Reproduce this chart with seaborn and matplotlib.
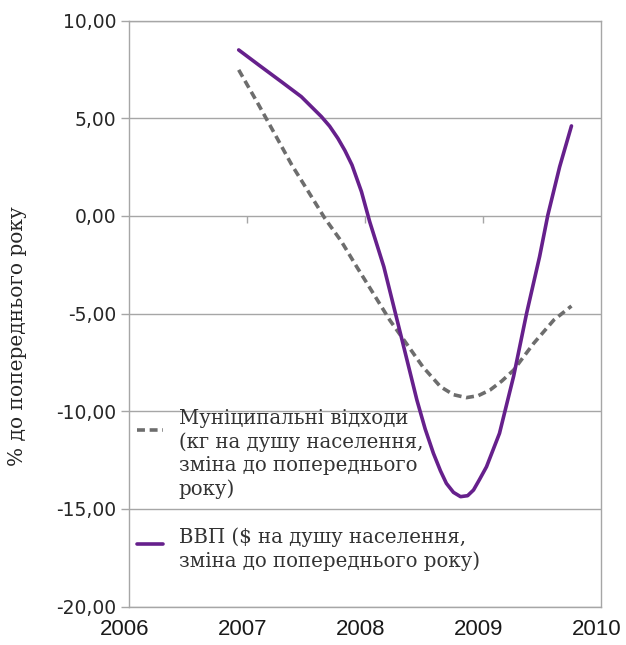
import matplotlib
matplotlib.use("Agg")
import matplotlib.pyplot as plt
import matplotlib.transforms as mtransforms
from matplotlib.legend_handler import HandlerLine2D
import seaborn as sns
import pandas as pd

# values (fractional year, % change)
waste_x = [2006.93, 2007.10, 2007.24, 2007.38, 2007.52, 2007.66, 2007.80, 2007.93,
           2008.07, 2008.21, 2008.35, 2008.49, 2008.64, 2008.75, 2008.86, 2008.96,
           2009.06, 2009.16, 2009.26, 2009.43, 2009.60, 2009.75]
waste_y = [7.48, 5.68, 4.15, 2.61, 1.25, -0.12, -1.30, -2.60,
           -3.96, -5.33, -6.52, -7.72, -8.74, -9.15, -9.30, -9.20,
           -8.91, -8.45, -7.89, -6.52, -5.33, -4.61]

gdp_x = [2006.93, 2007.10, 2007.29, 2007.46, 2007.63, 2007.70, 2007.77, 2007.83,
         2007.89, 2007.97, 2008.04, 2008.16, 2008.30, 2008.44, 2008.51, 2008.58,
         2008.64, 2008.69, 2008.75, 2008.81, 2008.87, 2008.92, 2008.97, 2009.03,
         2009.14, 2009.26, 2009.37, 2009.48, 2009.55, 2009.65, 2009.75]
gdp_y = [8.50, 7.73, 6.88, 6.11, 5.09, 4.60, 3.98, 3.35,
         2.61, 1.25, -0.29, -2.60, -6.00, -9.42, -10.90, -12.15,
         -13.05, -13.69, -14.15, -14.37, -14.32, -14.03, -13.50, -12.84,
         -11.13, -8.20, -4.98, -2.08, 0.05, 2.52, 4.61]

years = [2006, 2007, 2008, 2009, 2010]
y_ticks = [10, 5, 0, -5, -10, -15, -20]

waste_label = "Муніципальні відходи\n(кг на душу населення,\nзміна до попереднього\nроку)"
gdp_label = "ВВП ($ на душу населення,\nзміна до попереднього року)"

waste_df = pd.DataFrame({"year": waste_x, "value": waste_y})
gdp_df = pd.DataFrame({"year": gdp_x, "value": gdp_y})


class RaisedHandler(HandlerLine2D):
    # put the legend sample next to the first text line, like Excel does
    def __init__(self, dy, **kw):
        super().__init__(**kw)
        self.dy = dy

    def create_artists(self, legend, orig_handle, xdescent, ydescent,
                       width, height, fontsize, trans):
        return super().create_artists(legend, orig_handle, xdescent, ydescent - self.dy,
                                      width, height, fontsize, trans)


sns.set_style("white")
plt.rcParams['font.family'] = ['DejaVu Sans']

fig = plt.figure(figsize=(6.26, 6.45), dpi=100)
ax = fig.add_axes([0.206, 0.0595, 0.754, 0.9085])

grid_c = "#a6a6a6"
sns.lineplot(data=waste_df, x="year", y="value", ax=ax, color="#6d6d6d",
             lw=2.6, label=waste_label)
waste_line = ax.lines[-1]
waste_line.set_dashes((2.2, 1.3))
sns.lineplot(data=gdp_df, x="year", y="value", ax=ax, color="#66208c",
             lw=2.6, label=gdp_label)
gdp_line = ax.lines[-1]
gdp_line.set_solid_joinstyle("round")

ax.set_xlim(2006, 2010)
ax.set_ylim(-20, 10)
ax.set_yticks(y_ticks)
ax.set_yticklabels([f"{v:.2f}".replace(".", ",") for v in y_ticks], fontsize=13.5, color="#262626")
ax.yaxis.grid(True, color=grid_c, lw=1)
ax.tick_params(axis="y", length=6, width=1, color=grid_c, pad=3, left=True)

ax.set_xticks(years)
ax.set_xticklabels([str(y) for y in years], fontsize=16, color="#1a1a1a",
                   family=['Liberation Sans'])
ax.tick_params(axis="x", length=0, pad=9)
shift = mtransforms.ScaledTranslation(-3 / 72, 0, fig.dpi_scale_trans)
for lbl in ax.get_xticklabels():
    lbl.set_transform(lbl.get_transform() + shift)

for s in ax.spines.values():
    s.set_color(grid_c)
    s.set_linewidth(1)

# category axis crossing at zero, Excel style
zero_axis = ax.secondary_xaxis(20 / 30)
zero_axis.set_xticks(years[1:-1])
zero_axis.set_xticklabels([])
zero_axis.tick_params(direction="out", length=5, color=grid_c, width=1, bottom=True, top=False)
zero_axis.xaxis.set_ticks_position("bottom")
zero_axis.spines["bottom"].set_visible(False)
zero_axis.spines["top"].set_visible(False)

ax.set_xlabel("")
ax.set_ylabel("% до попереднього року", family="DejaVu Serif", fontsize=14.5,
              color="#262626")
ax.yaxis.set_label_coords(-0.216, 0.462)

leg = ax.legend(handles=[waste_line, gdp_line], labels=[waste_label, gdp_label],
                handler_map={waste_line: RaisedHandler(36), gdp_line: RaisedHandler(8)},
                loc="upper left", bbox_to_anchor=(0.017, 0.337), frameon=False,
                prop={"family": "DejaVu Serif", "size": 14.25}, labelcolor="#333333",
                handlelength=1.3, handletextpad=0.8, labelspacing=1.45,
                borderaxespad=0, borderpad=0)
for t in leg.get_texts():
    t.set_linespacing(1.27)

fig.savefig("out.png", dpi=100)
